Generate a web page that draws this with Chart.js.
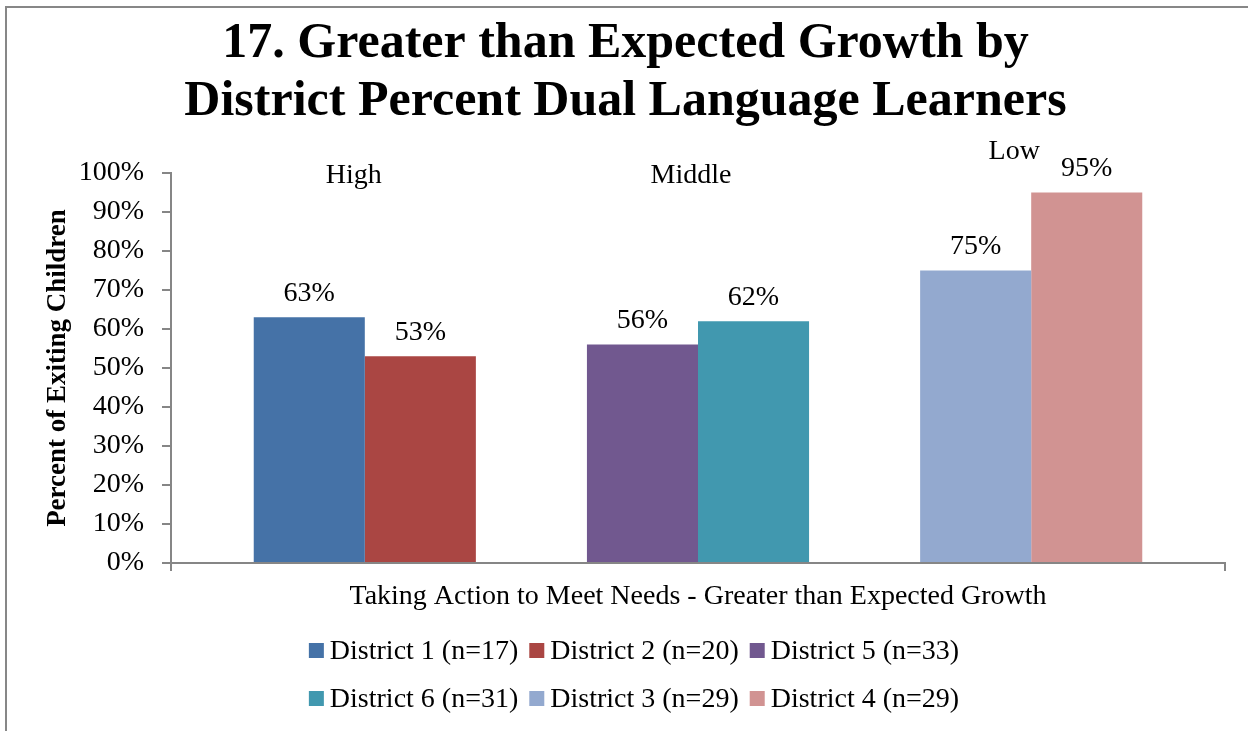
<!DOCTYPE html>
<html>
<head>
<meta charset="utf-8">
<script src="https://cdn.jsdelivr.net/npm/chart.js@4"></script>
<style>
  html, body { margin: 0; padding: 0; background: #fff; overflow: hidden; }
  #frame { position: absolute; left: 5px; top: 6px; width: 1300px; height: 800px;
           border-top: 2px solid #878787; border-left: 2px solid #878787; }
  #wrap { position: absolute; left: 0; top: 0; width: 1248px; height: 731px; }
</style>
</head>
<body>
<div id="frame"></div>
<div id="wrap"><canvas id="growth-graph" width="1248" height="731"></canvas></div>
<script>
// one category, 8 slots (two empty slots make the gaps between the pairs)
const categories = ['Taking Action to Meet Needs - Greater than Expected Growth'];
const districts = ['District 1 (n=17)', 'District 2 (n=20)', '', 'District 5 (n=33)', 'District 6 (n=31)', '', 'District 3 (n=29)', 'District 4 (n=29)'];
const percents = [63, 53, null, 56, 62, null, 75, 95];
const colors = ['#4572A7', '#AA4643', null, '#71588F', '#4198AF', null, '#93A9CF', '#D19392'];
const groups = ['High', 'Middle', 'Low'];
const groupPairs = [[0, 1], [3, 4], [6, 7]];
const titleLines = ['17. Greater than Expected Growth by', 'District Percent Dual Language Learners'];

const serif = 'Liberation Serif';
const axisGray = '#868686';

const barLabels = {
    id: 'barLabels',
    afterDatasetsDraw(chart){
        const ctx = chart.ctx;
        ctx.save();
        ctx.font = '28px "' + serif + '"';
        ctx.fillStyle = '#000';
        ctx.textAlign = 'center';
        ctx.textBaseline = 'middle';
        chart.data.datasets.forEach((ds, i) => {
            if(ds.data[0] == null) return;
            let bar = chart.getDatasetMeta(i).data[0];
            ctx.fillText(ds.data[0] + '%', bar.x, bar.y - 24);
        });

        // group names above each pair
        let top = chart.scales.y.getPixelForValue(100);
        for(let g=0; g < groups.length; g++){
            let a = chart.getDatasetMeta(groupPairs[g][0]).data[0];
            let b = chart.getDatasetMeta(groupPairs[g][1]).data[0];
            let mid = (a.x + b.x) / 2;
            let dx = [-11, -7, -17][g];
            let dy = g == 2 ? -21 : 3;
            ctx.fillText(groups[g], mid + dx, top + dy);
        }
        ctx.restore();
    }
};

const bottomLegend = {
    id: 'bottomLegend',
    afterDraw(chart){
        const ctx = chart.ctx;
        const rows = [[0, 1, 3], [4, 6, 7]];
        const rowY = [650.5, 698.5];
        const box = 15, gap = 6, spacing = 11;
        ctx.save();
        ctx.font = '28px "' + serif + '"';
        ctx.textBaseline = 'middle';
        ctx.textAlign = 'left';
        for(let r=0; r < rows.length; r++){
            let widths = rows[r].map(i => box + gap + ctx.measureText(districts[i]).width);
            let total = widths.reduce((s, w) => s + w, 0) + spacing * (widths.length - 1);
            let x = chart.width / 2 + 10 - total / 2;
            rows[r].forEach((i, k) => {
                ctx.fillStyle = colors[i];
                ctx.fillRect(x, rowY[r] - box / 2, box, box);
                ctx.fillStyle = '#000';
                ctx.fillText(districts[i], x + box + gap, rowY[r] + 1);
                x += widths[k] + spacing;
            });
        }
        ctx.restore();
    }
};

function CreateBars(canva){
    let ctx = document.getElementById(canva);
    let datasets = [];
    for(let i=0; i < districts.length; i++){
        datasets.push({
            label: districts[i],
            data: [percents[i]],
            backgroundColor: colors[i] || 'rgba(0,0,0,0)',
            borderWidth: 0,
            barPercentage: 1,
            categoryPercentage: 0.843
        });
    }

    return new Chart(ctx, {
        type: 'bar',
        data: { labels: categories, datasets: datasets },
        options: {
            responsive: false,
            animation: false,
            layout: { padding: { left: 26, right: 23, top: 0, bottom: 108 } },
            plugins: {
                legend: { display: false },
                tooltip: { enabled: false },
                title: {
                    display: true,
                    text: titleLines,
                    color: '#000',
                    font: { family: serif, size: 50, weight: 'bold', lineHeight: 1.16 },
                    padding: { top: 15, bottom: 42 }
                }
            },
            scales: {
                x: {
                    grid: { drawOnChartArea: false, drawTicks: true, tickLength: 8, color: axisGray, lineWidth: 2, offset: true },
                    border: { color: axisGray, width: 2 },
                    ticks: { color: '#000', font: { family: serif, size: 28 }, padding: 9 },
                    afterFit: s => { s.height = 60; }
                },
                y: {
                    min: 0,
                    max: 100,
                    grid: { drawOnChartArea: false, drawTicks: true, tickLength: 9, color: axisGray, lineWidth: 2 },
                    border: { color: axisGray, width: 2 },
                    ticks: { stepSize: 10, color: '#000', font: { family: serif, size: 28 }, padding: 18,
                             callback: v => v + '%' },
                    title: {
                        display: true,
                        text: 'Percent of Exiting Children',
                        color: '#000',
                        font: { family: serif, size: 27, weight: 'bold' },
                        padding: { top: 16, bottom: 0 }
                    },
                    afterFit: s => { s.width = 145; }
                }
            }
        },
        plugins: [barLabels, bottomLegend]
    });
}

CreateBars('growth-graph');
</script>
</body>
</html>
